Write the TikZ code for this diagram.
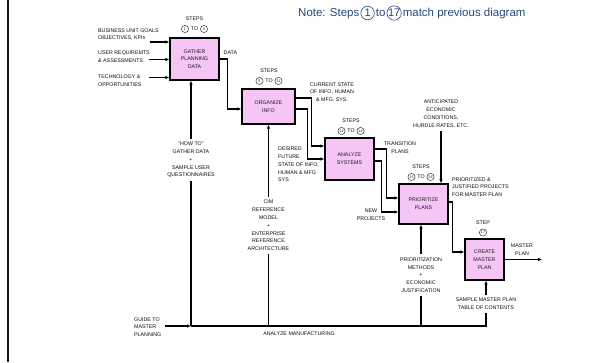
\documentclass[tikz,border=0pt]{standalone}
\usepackage{fontspec}
\setmainfont{Liberation Sans}
\usetikzlibrary{arrows.meta,positioning,calc}
\definecolor{boxfill}{RGB}{245,198,245}
\definecolor{noteblue}{RGB}{38,72,122}
\tikzset{
  lbl/.style={inner sep=0pt, font=\fontsize{5.3}{7.8}\selectfont, text=black!95, align=center},
  lbll/.style={lbl, align=left, anchor=west},
  mlbl/.style={lbl, outer sep=3.5pt},
  procbox/.style={draw=black, line width=1.4pt, fill=boxfill, inner sep=0pt,
    font=\fontsize{5.3}{7.8}\selectfont, align=center, text=black!90},
  flow/.style={line width=1.3pt, -{Latex[length=4pt,width=3.6pt]}},
  plainline/.style={line width=1.3pt},
  stepc/.style={circle, draw=black!85, line width=0.45pt, inner sep=0pt, minimum size=7.2pt,
    font=\fontsize{3.7}{4}\selectfont, text=black!90},
  notec/.style={circle, draw=noteblue, line width=0.6pt, inner sep=0pt, minimum size=13.5pt,
    text=noteblue, font=\fontsize{11}{12}\selectfont},
  notet/.style={inner sep=0pt, text=noteblue, font=\fontsize{11.5}{13}\selectfont,
    text height=8pt, text depth=0.5pt},
}
\newcommand\mystepsmark[6]{%
  \node[lbl] (#1t) at (#2,#3) {#4};
  \node[stepc] (#1a) at ($(#2,#3)+(-9.5,10)$) {#5};
  \node[lbl] (#1to) at ($(#2,#3)+(0,10)$) {TO};
  \node[stepc] (#1b) at ($(#2,#3)+(9.5,10)$) {#6};
}
\begin{document}
\begin{tikzpicture}[x=1pt,y=-1pt]
\useasboundingbox (0,0) rectangle (591,362);
\fill[white] (0,0) rectangle (591,362);
\draw[line width=2pt, black!90] (8,0) -- (8,362);

% note
\node[notet, anchor=west] (n1) at (298,13) {Note: Steps};
\node[notec, right=1pt of n1] (n2) {1};
\node[notet, right=1pt of n2] (n3) {to};
\node[notec, right=1pt of n3] (n4) {17};
\node[notet, right=1pt of n4] (n5) {match previous diagram};

% boxes
\node[procbox, minimum width=49pt, minimum height=42pt] (gather) at (194.5,59) {GATHER\\PLANNING\\DATA};
\node[procbox, minimum width=53pt, minimum height=35pt] (organize) at (268.5,106.5) {ORGANIZE\\INFO};
\node[procbox, minimum width=49pt, minimum height=42pt] (analyze) at (349.5,159) {ANALYZE\\SYSTEMS};
\node[procbox, minimum width=49pt, minimum height=40pt] (prio) at (423.5,204) {PRIORITIZE\\PLANS};
\node[procbox, minimum width=39pt, minimum height=41pt] (create) at (484.5,259.5) {CREATE\\MASTER\\PLAN};

% steps marks
\mystepsmark{sg}{194.5}{19}{STEPS}{1}{4}
\mystepsmark{so}{269}{71}{STEPS}{5}{11}
\mystepsmark{sa}{351}{121}{STEPS}{12}{14}
\mystepsmark{sp}{421}{167}{STEPS}{15}{16}
\node[lbl] (sct) at (483,222.5) {STEP};
\node[stepc] (sca) at (483,232.5) {17};

% inputs to gather
\node[lbll] (in1l) at (98,34.5) {BUSINESS UNIT GOALS\\OBJECTIVES, KPIs};
\node[lbll] (in2l) at (98,57) {USER REQUIREMTS\\\& ASSESSMENTS};
\node[lbll] (in3l) at (98,81) {TECHNOLOGY \&\\OPPORTUNITIES};
\coordinate (i1) at (150,42);
\coordinate (i2) at (149,59.5);
\coordinate (i3) at (149,77.5);
\draw[flow] (i1) -- (i1 -| gather.west);
\draw[flow] (i2) -- (i2 -| gather.west);
\draw[flow] (i3) -- (i3 -| gather.west);

% data
\node[lbll] (datal) at (223.5,53) {DATA};
\draw[flow] (gather.east) -- ++(8,0) |- ($(organize.west)+(0,2.5)$);

% organize outputs
\node[lbl] (curl) at (332,92) {CURRENT STATE\\OF INFO, HUMAN\\\& MFG. SYS.};
\node[lbll] (desl) at (278,164.5) {DESIRED\\FUTURE\\STATE OF INFO,\\HUMAN \& MFG\\SYS};
\draw[flow] ($(organize.east)+(0,-8.5)$) -- ++(16,0) |- ($(analyze.west)+(0,-13)$);
\draw[flow] ($(organize.east)+(0,2.5)$) -- ++(12,0) |- (analyze.west);

% analyze outputs
\node[lbl] (tranl) at (400,147.5) {TRANSITION\\PLANS};
\node[lbl] (newl) at (371,214.5) {NEW\\PROJECTS};
\draw[flow] ($(analyze.east)+(0,-10)$) -- ++(12,0) |- ($(prio.west)+(0,-6)$);
\draw[flow] ($(analyze.east)+(0,2)$) -- ++(7,0) |- ($(prio.west)+(0,8)$);

% anticipated control
\node[mlbl] (antl) at (441,114) {ANTICIPATED\\ECONOMIC\\CONDITIONS,\\HURDLE RATES, ETC.};
\draw[flow] (antl.south) -- (antl.south |- prio.north);

% prioritize output
\node[lbll] (pjl) at (452,187) {PRIORITIZED \&\\JUSTIFIED PROJECTS\\FOR MASTER PLAN};
\draw[flow] ($(prio.east)+(0,-2)$) -- ++(4,0) |- ($(create.west)+(0,-7.5)$);

% master plan output
\node[lbl] (mpl) at (522,250) {MASTER\\PLAN};
\coordinate (mpend) at (542,259.5);
\draw[flow] (create.east) -- (mpend);

% mechanisms
\node[mlbl] (gmech) at (191,160) {"HOW TO"\\GATHER DATA\\+\\SAMPLE USER\\QUESTIONNAIRES};
\node[mlbl] (omech) at (268.5,225.5) {CIM\\REFERENCE\\MODEL\\+\\ENTERPRISE\\REFERENCE\\ARCHITECTURE};
\node[mlbl] (pmech) at (421,275) {PRIORITIZATION\\METHODS\\+\\ECONOMIC\\JUSTIFICATION};
\node[mlbl] (cmech) at (486,304) {SAMPLE MASTER PLAN\\TABLE OF CONTENTS};

\draw[flow] (gmech.north) -- (gmech.north |- gather.south);
\draw[flow] (omech.north) -- (omech.north |- organize.south);
\draw[flow] (pmech.north) -- (pmech.north |- prio.south);
\draw[flow] (cmech.north) -- (cmech.north |- create.south);

\coordinate (bl) at (191,326);
\draw[plainline] (gmech.south) -- (bl);
\draw[plainline] (omech.south) -- (omech.south |- bl);
\draw[plainline] (pmech.south) -- (pmech.south |- bl);
\draw[plainline] (bl) -| (cmech.south);

% guide input
\node[lbll] (guidel) at (134,327) {GUIDE TO\\MASTER\\PLANNING};
\coordinate (gstart) at (165,326);
\draw[flow] (gstart) -- (bl);
\node[lbl] (anml) at (299,334) {ANALYZE MANUFACTURING};
\end{tikzpicture}
\end{document}
